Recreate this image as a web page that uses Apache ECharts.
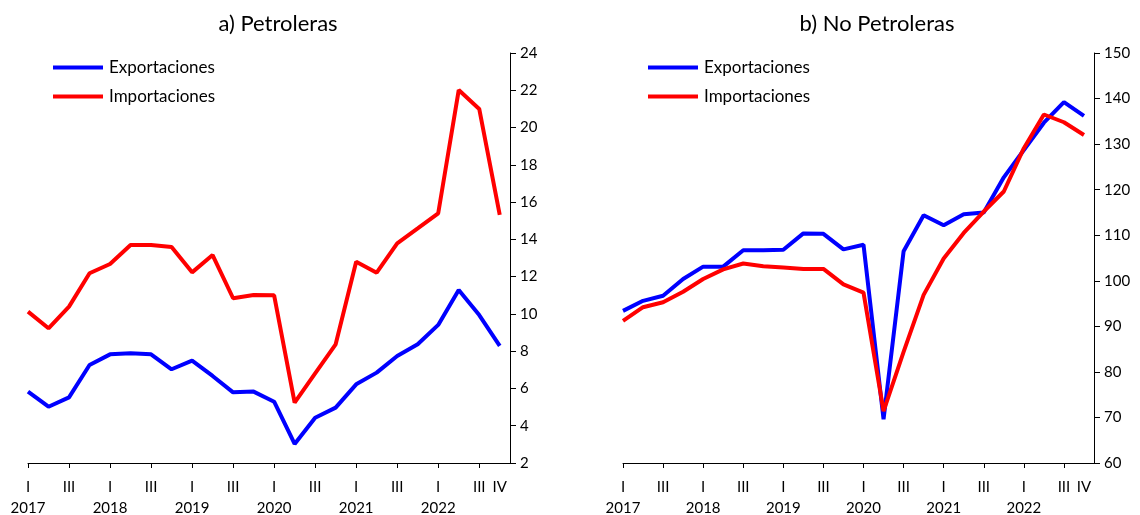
<!DOCTYPE html>
<html>
<head>
<meta charset="utf-8">
<script src="https://cdn.jsdelivr.net/npm/echarts@6/dist/echarts.min.js"></script>
<style>html,body{margin:0;padding:0;background:#fff;}#c{width:1140px;height:515px;}</style>
</head>
<body>
<div id="c"></div>
<script>
const years = ['2017','2018','2019','2020','2021','2022'];
const quarterNames = ['I','II','III','IV'];
const quarterTicks = [0,2,4,6,8,10,12,14,16,18,20,22];
const quarterLabelPos = [0,2,4,6,8,10,12,14,16,18,20,22,23];

const petExport = [5.83,5.02,5.52,7.26,7.83,7.89,7.83,7.03,7.49,6.67,5.79,5.83,5.29,3.02,4.43,4.97,6.22,6.85,7.74,8.37,9.41,11.28,9.94,8.29];
const petImport = [10.12,9.23,10.39,12.18,12.68,13.70,13.70,13.59,12.23,13.16,10.84,11.01,11.00,5.24,6.81,8.37,12.80,12.21,13.79,14.59,15.40,22.01,21.00,15.31];
const noPetExport = [93.4,95.6,96.7,100.4,103.1,103.1,106.7,106.7,106.8,110.4,110.3,106.9,107.9,69.6,106.5,114.4,112.2,114.6,115.0,122.7,128.7,134.7,139.2,136.2];
const noPetImport = [91.2,94.2,95.3,97.6,100.4,102.5,103.8,103.2,102.9,102.6,102.6,99.2,97.4,71.4,84.4,96.9,104.9,110.5,115.2,119.6,129.1,136.5,134.8,132.0];

const leftTicks = {min:2,max:24,interval:2};
const rightTicks = {min:60,max:150,interval:10};

const FONT = 'Lato, "Open Sans", sans-serif';
function pairs(arr){ return arr.map((v,i)=>[i,v]); }
function xLabel(v){
  const i = Math.round(v);
  const q = i % 4;
  if (q === 0) return quarterNames[q] + '\n' + years[Math.floor(i/4)];
  return quarterNames[q];
}
function xAxis(gridIndex){
  return {
    type:'value', gridIndex, min:0, max:23.5,
    axisLine:{show:true,onZero:false,lineStyle:{color:'#000',width:1}},
    axisTick:{show:true,length:5,lineStyle:{color:'#000'},customValues:quarterTicks},
    axisLabel:{customValues:quarterLabelPos,formatter:xLabel,color:'#000',fontSize:15,fontFamily:FONT,lineHeight:21,margin:14,showMinLabel:true,showMaxLabel:true},
    splitLine:{show:false}
  };
}
function yAxis(gridIndex, t){
  return {
    type:'value', gridIndex, position:'right', min:t.min, max:t.max, interval:t.interval,
    axisLine:{show:true,onZero:false,lineStyle:{color:'#000',width:1}},
    axisTick:{show:true,length:6,lineStyle:{color:'#000'}},
    axisLabel:{color:'#000',fontSize:15,fontFamily:FONT,margin:10},
    splitLine:{show:false}
  };
}
function line(name, data, color, idx){
  return {name, type:'line', xAxisIndex:idx, yAxisIndex:idx, data:pairs(data), symbol:'none',
    lineStyle:{color,width:4}, itemStyle:{color}, animation:false};
}
function legend(left){
  return {orient:'vertical', left, top:59, padding:0, icon:'rect', itemWidth:50, itemHeight:4, itemGap:12,
    data:['Exportaciones','Importaciones'], textStyle:{fontSize:17,fontFamily:FONT,color:'#000',padding:[0,0,0,1]}, selectedMode:false};
}
const chart = echarts.init(document.getElementById('c'));
chart.setOption({
  animation:false,
  title:[
    {text:'a) Petroleras', left:273, top:8, textAlign:'center', textStyle:{fontSize:22,fontWeight:'normal',fontFamily:FONT,color:'#000'}},
    {text:'b) No Petroleras', left:872, top:8, textAlign:'center', textStyle:{fontSize:22,fontWeight:'normal',fontFamily:FONT,color:'#000'}}
  ],
  legend:[legend(53), legend(648)],
  grid:[
    {left:28, right:630, top:53, bottom:52, containLabel:false, outerBoundsMode:'none'},
    {left:623, right:46, top:53, bottom:52, containLabel:false, outerBoundsMode:'none'}
  ],
  xAxis:[xAxis(0), xAxis(1)],
  yAxis:[yAxis(0,leftTicks), yAxis(1,rightTicks)],
  series:[
    line('Exportaciones', petExport, '#0000FF', 0),
    line('Importaciones', petImport, '#FF0000', 0),
    line('Exportaciones', noPetExport, '#0000FF', 1),
    line('Importaciones', noPetImport, '#FF0000', 1)
  ]
});
</script>
</body>
</html>
